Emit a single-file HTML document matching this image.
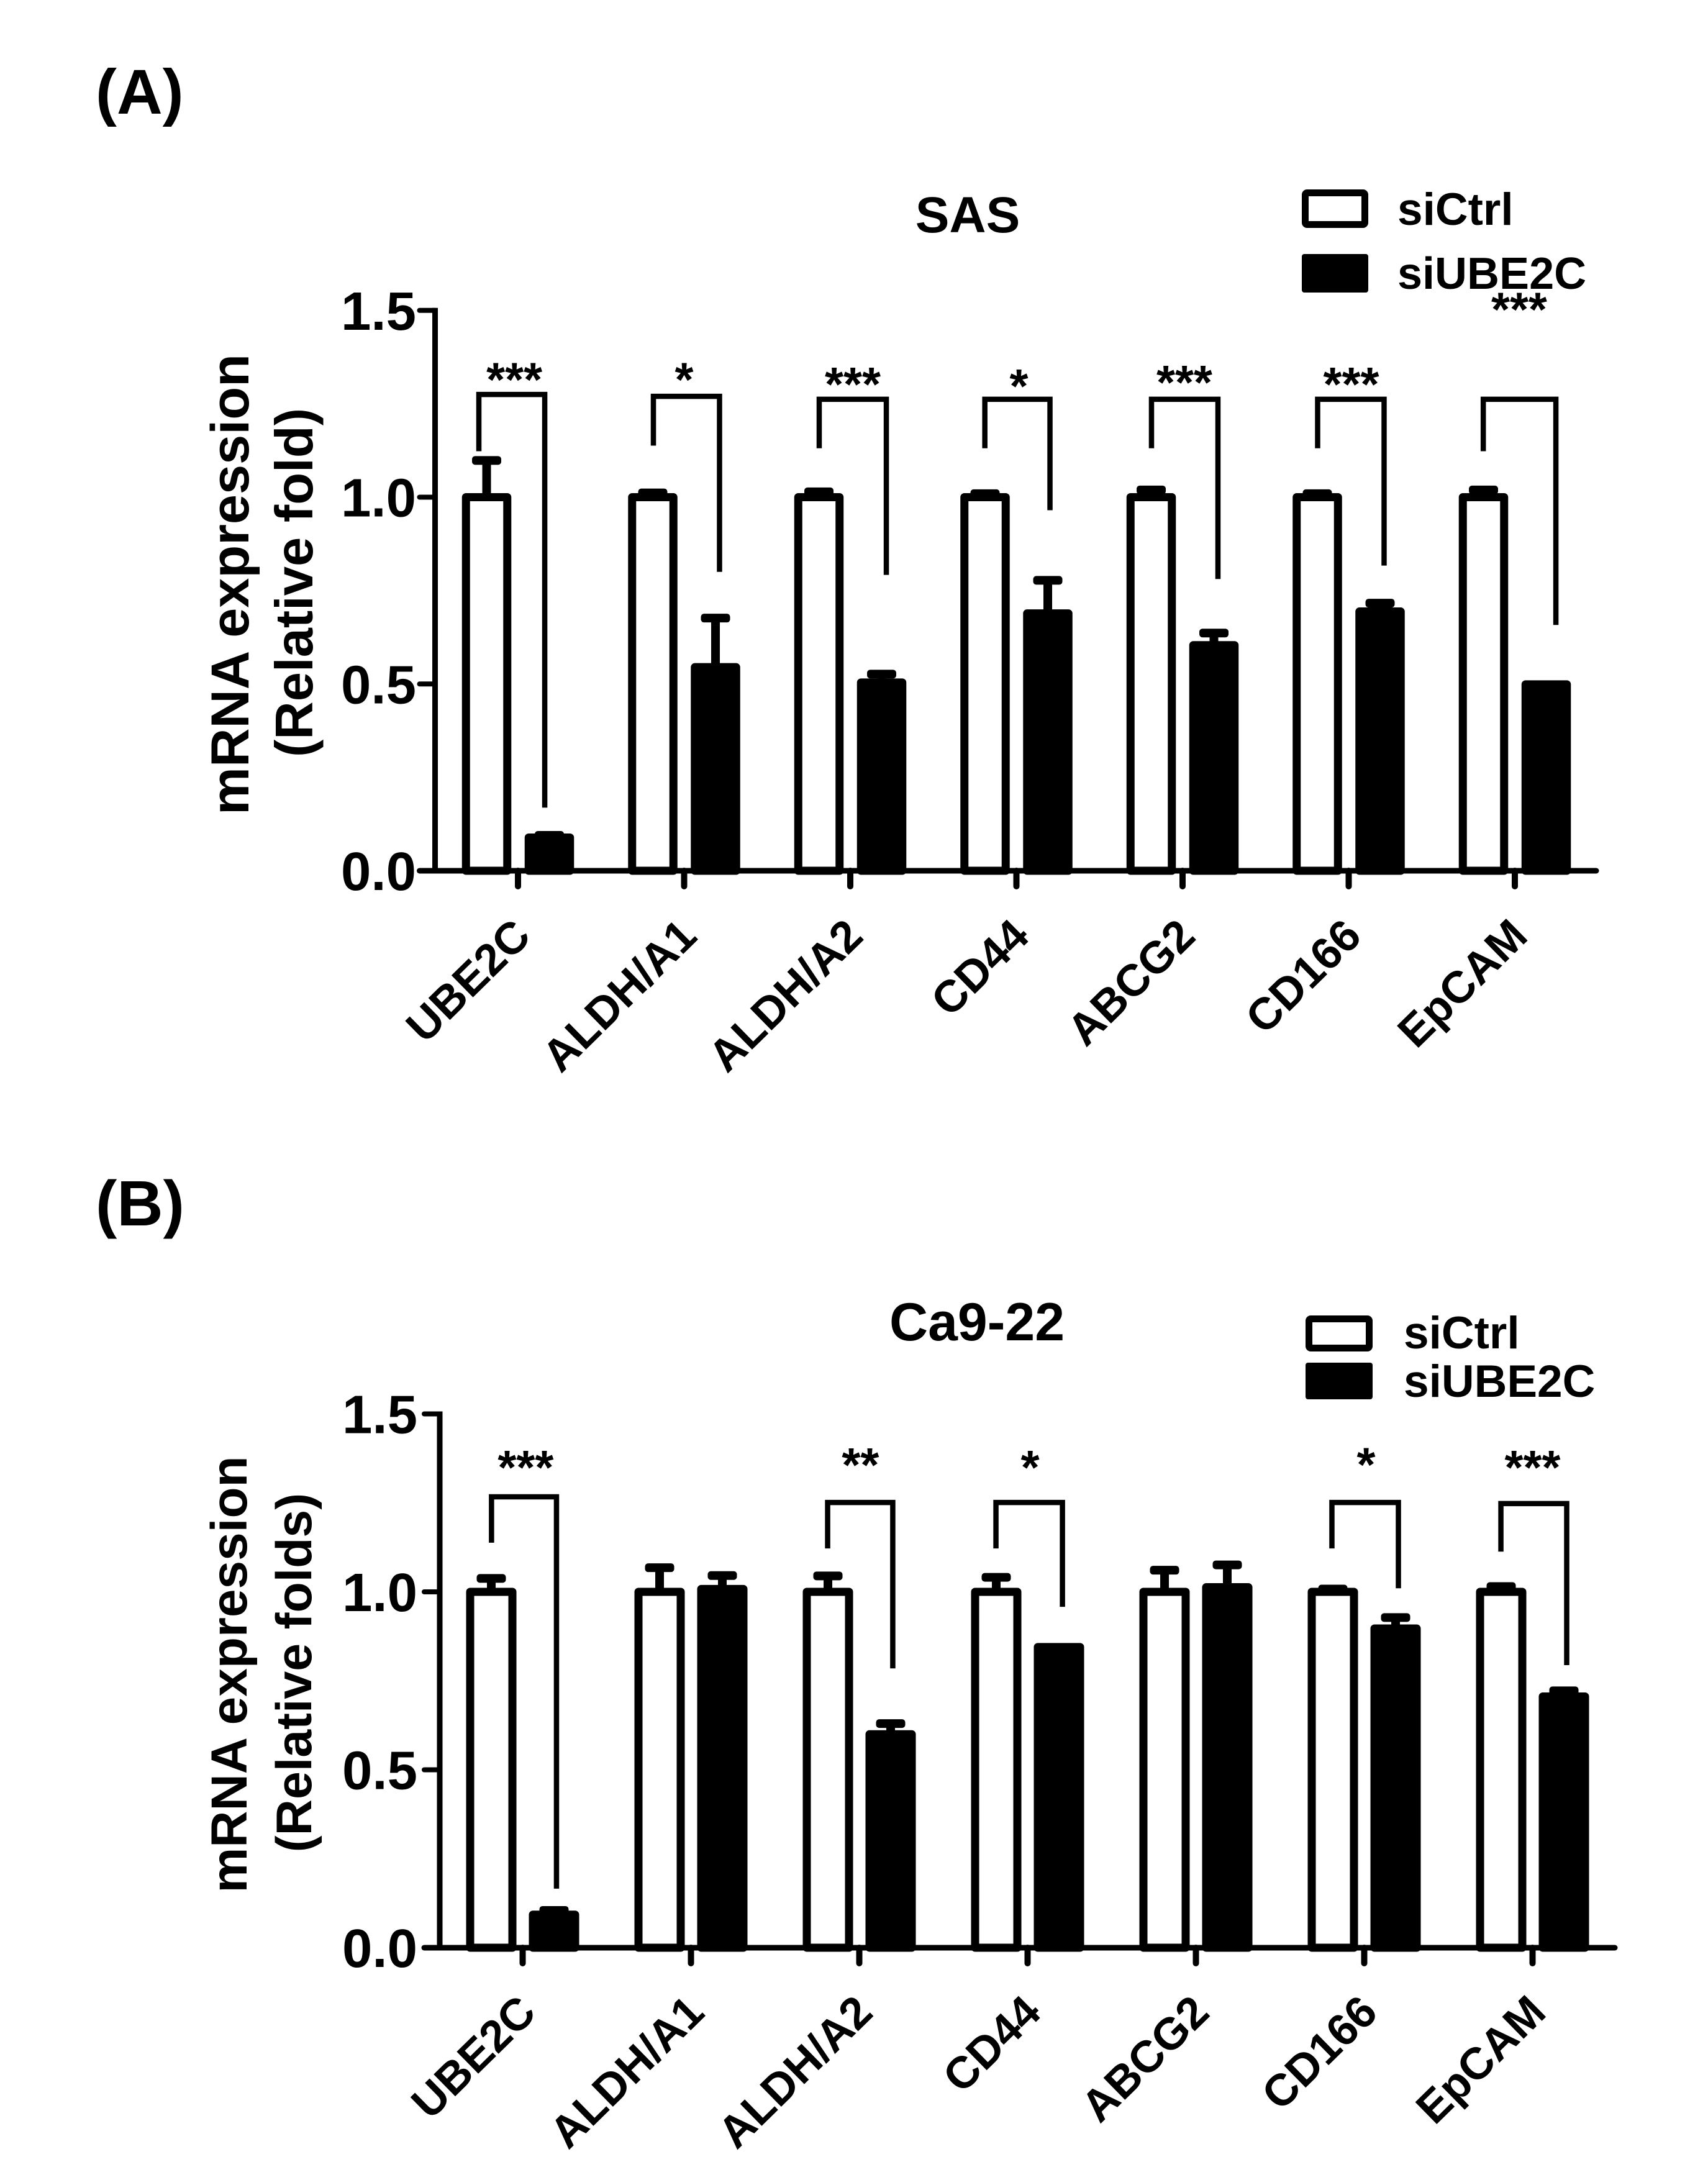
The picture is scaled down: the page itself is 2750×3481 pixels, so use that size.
<!DOCTYPE html>
<html lang="en">
<head>
<meta charset="utf-8">
<title>mRNA expression after UBE2C knockdown</title>
<style>
html,body{margin:0;padding:0;background:#fff;}
svg{display:block;}
text{font-family:"Liberation Sans",Arial,sans-serif;fill:#000;}
.b{font-weight:bold;}
</style>
</head>
<body>
<svg id="figure" xmlns="http://www.w3.org/2000/svg" width="2750" height="3481" viewBox="0 0 2750 3481">
  <rect width="2750" height="3481" fill="#fff"/>
  <text class="b" x="154" y="183" font-size="102">(A)</text>
  <text class="b" x="154" y="1973" font-size="103">(B)</text>

  <text class="b" x="1558" y="374" font-size="82" text-anchor="middle">SAS</text>
  <text class="b" x="1573" y="2158" font-size="86" text-anchor="middle">Ca9-22</text>

  <text class="b" transform="translate(400 941) rotate(-90)" font-size="86.5" text-anchor="middle">mRNA expression</text>
  <text class="b" transform="translate(503 938) rotate(-90)" font-size="85" text-anchor="middle">(Relative fold)</text>
  <text class="b" transform="translate(397 2696) rotate(-90)" font-size="82" text-anchor="middle">mRNA expression</text>
  <text class="b" transform="translate(501 2693) rotate(-90)" font-size="80.7" text-anchor="middle">(Relative folds)</text>

  <g>
    <rect x="2101.5" y="310.5" width="96" height="51" rx="3" fill="#fff" stroke="#000" stroke-width="11"/>
    <text class="b" x="2250" y="362" font-size="73">siCtrl</text>
    <rect x="2096" y="409" width="107" height="62" rx="4" fill="#000"/>
    <text class="b" x="2250" y="465" font-size="72">siUBE2C</text>
  </g>
  <g>
    <rect x="2107.5" y="2123.5" width="97" height="47" rx="3" fill="#fff" stroke="#000" stroke-width="11"/>
    <text class="b" x="2260" y="2171" font-size="73">siCtrl</text>
    <rect x="2102" y="2194" width="108" height="59" rx="4" fill="#000"/>
    <text class="b" x="2260" y="2249" font-size="73">siUBE2C</text>
  </g>
  <g id="panel-a"></g>
  <g id="panel-b"></g>
</svg>
<script>
var categories = ['UBE2C', 'ALDH/A1', 'ALDH/A2', 'CD44', 'ABCG2', 'CD166', 'EpCAM'];
var yTickValues = [0, 0.5, 1.0, 1.5];

// Panel A (SAS)
var sasCtrl = [1, 1, 1, 1, 1, 1, 1];
var sasCtrlErr = [0.11, 0.023, 0.026, 0.021, 0.031, 0.021, 0.031];
var sasKnock = [0.089, 0.545, 0.504, 0.689, 0.604, 0.694, 0.499];
var sasKnockErr = [0.0175, 0.143, 0.034, 0.10, 0.044, 0.034, 0];
var sasBracketGroups = [0, 1, 2, 3, 4, 5, 6];
var sasStars = ['***', '*', '***', '*', '***', '***', '***'];
var sasBracketTop = [1.275, 1.270, 1.262, 1.262, 1.262, 1.262, 1.262];
var sasBracketLeftEnd = [1.123, 1.138, 1.131, 1.131, 1.131, 1.131, 1.123];
var sasBracketRightEnd = [0.169, 0.80, 0.792, 0.965, 0.781, 0.817, 0.658];
var sasBracketLeftCat = [-0.2355, -0.185, -0.187, -0.19, -0.187, -0.187, -0.19];
var sasBracketRightCat = [0.161, 0.213, 0.217, 0.202, 0.213, 0.213, 0.247];
var sasStarCat = [-0.022, 0, 0.015, 0.015, 0.011, 0.015, 0.026];
var sasStarLevel = [1.329, 1.329, 1.317, 1.312, 1.322, 1.317, 1.517];

// Panel B (Ca9-22)
var caCtrl = [1, 1, 1, 1, 1, 1, 1];
var caCtrlErr = [0.05, 0.08, 0.057, 0.053, 0.073, 0.02, 0.027];
var caKnock = [0.093, 1.008, 0.60, 0.845, 1.013, 0.897, 0.706];
var caKnockErr = [0.024, 0.05, 0.042, 0.01, 0.075, 0.043, 0.028];
var caBracketGroups = [0, 2, 3, 5, 6];
var caStars = ['***', '**', '*', '*', '***'];
var caBracketTop = [1.267, 1.251, 1.251, 1.251, 1.248];
var caBracketLeftEnd = [1.138, 1.122, 1.122, 1.122, 1.113];
var caBracketRightEnd = [0.166, 0.785, 0.958, 1.010, 0.794];
var caBracketLeftCat = [-0.185, -0.188, -0.188, -0.192, -0.188];
var caBracketRightCat = [0.201, 0.199, 0.207, 0.203, 0.203];
var caStarCat = [0.018, 0.007, 0.015, 0.011, 0];
var caStarLevel = [1.365, 1.372, 1.365, 1.373, 1.365];

var SVGNS = 'http://www.w3.org/2000/svg';
function make(parent, tag, attrs, txt) {
  var el = document.createElementNS(SVGNS, tag);
  for (var k in attrs) { el.setAttribute(k, attrs[k]); }
  if (txt !== undefined) { el.textContent = txt; }
  parent.appendChild(el);
  return el;
}

function drawPanel(cfg) {
  var root = document.getElementById(cfg.id);
  function yScale(v) { return cfg.y0 - v * cfg.unit; }
  function xScale(c) { return cfg.x0 + c * cfg.step; }
  var BW = cfg.barWidth, SW = 13, OFF = 50.5;

  function drawBar(i, vals, errs, filled) {
    var cx = xScale(i) + (filled ? OFF : -OFF);
    var top = yScale(vals[i]);
    if (errs[i] > 0) {
      var errTop = yScale(vals[i] + errs[i]);
      var stem = make(root, 'line', {x1: cx, x2: cx, y1: top, y2: errTop + 7, stroke: '#000', 'stroke-width': 14});
      
      
      var cap = make(root, 'rect', {x: cx - 23.5, y: errTop, width: 47, height: 14, rx: 5, fill: '#000'});
      
      
    }
    var bar = make(root, 'rect', {
      x: cx - BW / 2 + SW / 2, y: top, width: BW - SW, height: cfg.y0 - top,
      fill: filled ? '#000' : '#fff', stroke: '#000', 'stroke-width': SW, 'stroke-linejoin': 'round'
    });
    
    
  }

  categories.forEach(function (name, i) {
    drawBar(i, cfg.ctrl, cfg.ctrlErr, false);
    drawBar(i, cfg.knock, cfg.knockErr, true);

    var tick = make(root, 'line', {x1: xScale(i), x2: xScale(i), y1: cfg.y0, y2: cfg.y0 + 25, stroke: '#000', 'stroke-width': 10, 'stroke-linecap': 'round'});
    
    

    var px = xScale(i) + cfg.labelDx, py = cfg.y0 + cfg.labelDy;
    var label = make(root, 'text', {'class': 'b', 'font-size': 72, 'text-anchor': 'end', transform: 'translate(' + px + ' ' + py + ') rotate(-44.5)'}, name);
    
    
  });

  yTickValues.forEach(function (v) {
    var tk = make(root, 'line', {x1: cfg.axisX - 25, x2: cfg.axisX, y1: yScale(v), y2: yScale(v), stroke: '#000', 'stroke-width': 8, 'stroke-linecap': 'round'});
    
    
    var tl = make(root, 'text', {'class': 'b', 'font-size': 87, 'text-anchor': 'end', x: cfg.tickLabelX, y: yScale(v) + 31}, v.toFixed(1));
    
    
  });

  var yAxis = make(root, 'line', {x1: cfg.axisX, x2: cfg.axisX, y1: yScale(1.5) - 4, y2: cfg.y0 + 4, stroke: '#000', 'stroke-width': 9});
  
  
  var xAxis = make(root, 'line', {x1: cfg.axisX - 25, x2: cfg.axisEnd, y1: cfg.y0, y2: cfg.y0, stroke: '#000', 'stroke-width': 9, 'stroke-linecap': 'round'});
  
  

  cfg.groups.forEach(function (g, j) {
    var xl = xScale(g + cfg.leftCat[j]);
    var xr = xScale(g + cfg.rightCat[j]);
    var d = 'M' + xl + ' ' + yScale(cfg.leftEnd[j]) + 'V' + yScale(cfg.top[j]) + 'H' + xr + 'V' + yScale(cfg.rightEnd[j]);
    var br = make(root, 'path', {d: d, fill: 'none', stroke: '#000', 'stroke-width': 8.5});
    
    
    var st = make(root, 'text', {'class': 'b', 'font-size': 77, 'text-anchor': 'middle', x: xScale(g + cfg.starCat[j]), y: yScale(cfg.starLevel[j]) + 35}, cfg.stars[j]);
    
    
  });
}

drawPanel({
  id: 'panel-a', x0: 834, step: 267.5, y0: 1402, unit: 601.5, axisX: 700.5, axisEnd: 2570,
  barWidth: 79.5, tickLabelX: 670, labelDx: 24, labelDy: 109,
  ctrl: sasCtrl, ctrlErr: sasCtrlErr, knock: sasKnock, knockErr: sasKnockErr,
  groups: sasBracketGroups, stars: sasStars, top: sasBracketTop,
  leftEnd: sasBracketLeftEnd, rightEnd: sasBracketRightEnd,
  leftCat: sasBracketLeftCat, rightCat: sasBracketRightCat,
  starCat: sasStarCat, starLevel: sasStarLevel
});
drawPanel({
  id: 'panel-b', x0: 841.5, step: 271, y0: 3136, unit: 573, axisX: 708, axisEnd: 2600,
  barWidth: 81, tickLabelX: 672, labelDx: 25, labelDy: 108,
  ctrl: caCtrl, ctrlErr: caCtrlErr, knock: caKnock, knockErr: caKnockErr,
  groups: caBracketGroups, stars: caStars, top: caBracketTop,
  leftEnd: caBracketLeftEnd, rightEnd: caBracketRightEnd,
  leftCat: caBracketLeftCat, rightCat: caBracketRightCat,
  starCat: caStarCat, starLevel: caStarLevel
});
</script>
</body>
</html>
